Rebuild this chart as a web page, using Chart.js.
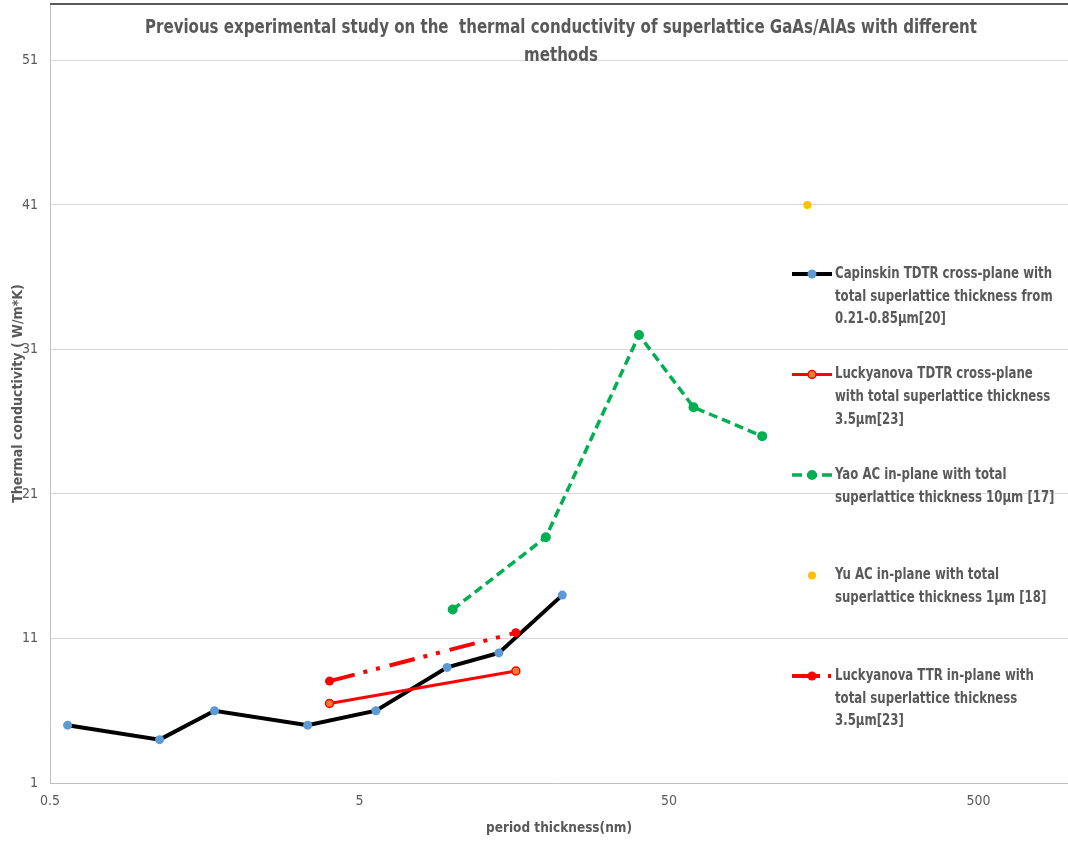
<!DOCTYPE html>
<html>
<head>
<meta charset="utf-8">
<script src="https://cdn.jsdelivr.net/npm/chart.js@4.4.0/dist/chart.umd.min.js"></script>
<style>
  html, body { margin: 0; padding: 0; background: #fff; overflow: hidden; }
  #wrap { width: 1068px; height: 841px; position: relative; }
</style>
</head>
<body>
<div id="wrap"><canvas id="chart"></canvas></div>
<script>
// period thickness (nm) vs thermal conductivity (W/m*K)
const periodCapinski = [0.57, 1.13, 1.7, 3.4, 5.65, 9.6, 14.1, 22.6];
const kCapinski = [5.0, 4.0, 6.0, 5.0, 6.0, 9.0, 10.0, 14.0];

const periodLuckTdtr = [4, 16];
const kLuckTdtr = [6.5, 8.75];

const periodYao = [10, 20, 40, 60, 100];
const kYao = [13, 18, 32, 27, 25];

const periodYu = [140];
const kYu = [41];

const periodLuckTtr = [4, 16];
const kLuckTtr = [8.05, 11.4];

const xTicks = [0.5, 5, 50, 500];
const yTicks = [1, 11, 21, 31, 41, 51];

const titleLines = [
    'Previous experimental study on the  thermal conductivity of superlattice GaAs/AlAs with different',
    'methods'
];

const legendLines = [
    ['Capinskin TDTR cross-plane with', 'total superlattice thickness from', '0.21-0.85\u00b5m[20]'],
    ['Luckyanova TDTR cross-plane', 'with total superlattice thickness', '3.5\u00b5m[23]'],
    ['Yao AC in-plane with total', 'superlattice thickness 10\u00b5m [17]'],
    ['Yu AC in-plane with total', 'superlattice thickness 1\u00b5m [18]'],
    ['Luckyanova TTR in-plane with', 'total superlattice thickness', '3.5\u00b5m[23]']
];

const FONT = '"Liberation Sans Narrow", "DejaVu Sans Condensed", "Roboto Condensed", sans-serif';
const GREY = '#595959';

function toPoints(xs, ys) {
    return xs.map((x, i) => ({ x: x, y: ys[i] }));
}

const datasets = [
    {
        label: legendLines[0].join(' '),
        data: toPoints(periodCapinski, kCapinski),
        showLine: true,
        borderColor: '#000000',
        borderWidth: 4,
        pointRadius: 4.5,
        pointBackgroundColor: '#5B9BD5',
        pointBorderWidth: 0,
        order: 5
    },
    {
        label: legendLines[1].join(' '),
        data: toPoints(periodLuckTdtr, kLuckTdtr),
        showLine: true,
        borderColor: '#FF0000',
        borderWidth: 3,
        pointRadius: 4,
        pointBackgroundColor: '#ED7D31',
        pointBorderColor: '#FF0000',
        pointBorderWidth: 1.5,
        order: 4
    },
    {
        label: legendLines[2].join(' '),
        data: toPoints(periodYao, kYao),
        showLine: true,
        borderColor: '#00B050',
        borderWidth: 3.5,
        borderDash: [9, 5],
        pointRadius: 5,
        pointBackgroundColor: '#00B050',
        pointBorderWidth: 0,
        order: 3
    },
    {
        label: legendLines[3].join(' '),
        data: toPoints(periodYu, kYu),
        showLine: false,
        pointRadius: 4,
        pointBackgroundColor: '#FFC000',
        pointBorderWidth: 0,
        order: 2
    },
    {
        label: legendLines[4].join(' '),
        data: toPoints(periodLuckTtr, kLuckTtr),
        showLine: true,
        borderColor: '#FF0000',
        borderWidth: 4,
        borderDash: [26, 9, 4, 9, 4, 10],
        pointRadius: 4.5,
        pointBackgroundColor: '#FF0000',
        pointBorderWidth: 0,
        order: 1
    }
];

// draw text squeezed horizontally (the original uses a condensed face)
function squeezedText(ctx, text, x, y, sx) {
    ctx.save();
    ctx.translate(x, y);
    ctx.scale(sx, 1);
    ctx.fillText(text, 0, 0);
    ctx.restore();
}

// title and legend are drawn over the plot area, like the spreadsheet chart
const overlayPlugin = {
    id: 'overlay',
    afterDraw(chart) {
        const ctx = chart.ctx;
        const area = chart.chartArea;
        ctx.save();

        // dark top border of the plot area
        ctx.strokeStyle = GREY;
        ctx.lineWidth = 2;
        ctx.beginPath();
        ctx.moveTo(area.left, area.top);
        ctx.lineTo(area.right, area.top);
        ctx.stroke();

        // title
        ctx.fillStyle = GREY;
        ctx.font = 'bold 19px ' + FONT;
        ctx.textAlign = 'center';
        ctx.textBaseline = 'middle';
        const titleSx = Math.min(1, 832 / ctx.measureText(titleLines[0]).width);
        titleLines.forEach((line, i) => {
            squeezedText(ctx, line, 561, 28 + i * 28, titleSx);
        });

        // legend
        const sx = 792, sw = 40, tx = 835;
        ctx.font = 'bold 15px ' + FONT;
        ctx.textAlign = 'left';
        const legSx = Math.min(1, 217 / ctx.measureText(legendLines[0][0]).width);
        legendLines.forEach((lines, i) => {
            const y = 274 + i * 100.5;
            const ds = chart.data.datasets[i];
            if (ds.showLine) {
                ctx.strokeStyle = ds.borderColor;
                ctx.lineWidth = ds.borderWidth;
                ctx.setLineDash(i === 2 ? [10, 5] : (i === 4 ? [28, 8, 3, 8] : []));
                ctx.beginPath();
                ctx.moveTo(sx, y);
                ctx.lineTo(sx + sw, y);
                ctx.stroke();
                ctx.setLineDash([]);
            }
            ctx.beginPath();
            ctx.arc(sx + 20, y, ds.pointRadius, 0, Math.PI * 2);
            ctx.fillStyle = ds.pointBackgroundColor;
            ctx.fill();
            if (ds.pointBorderWidth) {
                ctx.strokeStyle = ds.pointBorderColor;
                ctx.lineWidth = ds.pointBorderWidth;
                ctx.stroke();
            }
            ctx.fillStyle = GREY;
            lines.forEach((t, j) => squeezedText(ctx, t, tx, y + j * 22.7, legSx));
        });
        ctx.restore();
    }
};

new Chart(document.getElementById('chart'), {
    type: 'scatter',
    data: { datasets: datasets },
    options: {
        responsive: true,
        maintainAspectRatio: false,
        animation: false,
        layout: { autoPadding: false, padding: { top: 4, left: 0, right: 0, bottom: 0 } },
        plugins: {
            legend: { display: false },
            tooltip: { enabled: false },
            title: { display: false }
        },
        scales: {
            x: {
                type: 'logarithmic',
                min: 0.5,
                max: 973,
                afterBuildTicks: (scale) => { scale.ticks = xTicks.map(v => ({ value: v })); },
                afterFit: (scale) => {
                    scale.height = 58;
                    scale.paddingLeft = 0;
                    scale.paddingRight = 0;
                },
                grid: { display: false, drawTicks: false },
                border: { display: true, color: '#BFBFBF', width: 1 },
                ticks: {
                    color: GREY,
                    padding: 10,
                    font: { family: FONT, size: 14 },
                    callback: (v) => String(v)
                },
                title: {
                    display: true,
                    text: 'period thickness(nm)',
                    color: GREY,
                    padding: { top: 4, bottom: 4 },
                    font: { family: FONT, size: 13.5, weight: 'bold' }
                }
            },
            y: {
                type: 'linear',
                min: 1,
                max: 54.9,
                afterBuildTicks: (scale) => { scale.ticks = yTicks.map(v => ({ value: v })); },
                afterFit: (scale) => {
                    scale.width = 50;
                    scale.paddingTop = 0;
                    scale.paddingBottom = 0;
                },
                grid: { color: '#D9D9D9', lineWidth: 1, drawTicks: false },
                border: { display: true, color: '#BFBFBF', width: 1 },
                ticks: {
                    color: GREY,
                    padding: 12,
                    font: { family: FONT, size: 14 },
                    callback: (v) => String(v)
                },
                title: {
                    display: true,
                    text: 'Thermal conductivity ( W/m*K)',
                    color: GREY,
                    padding: { top: 10, bottom: 4 },
                    font: { family: FONT, size: 14, weight: 'bold' }
                }
            }
        }
    },
    plugins: [overlayPlugin]
});
</script>
</body>
</html>
